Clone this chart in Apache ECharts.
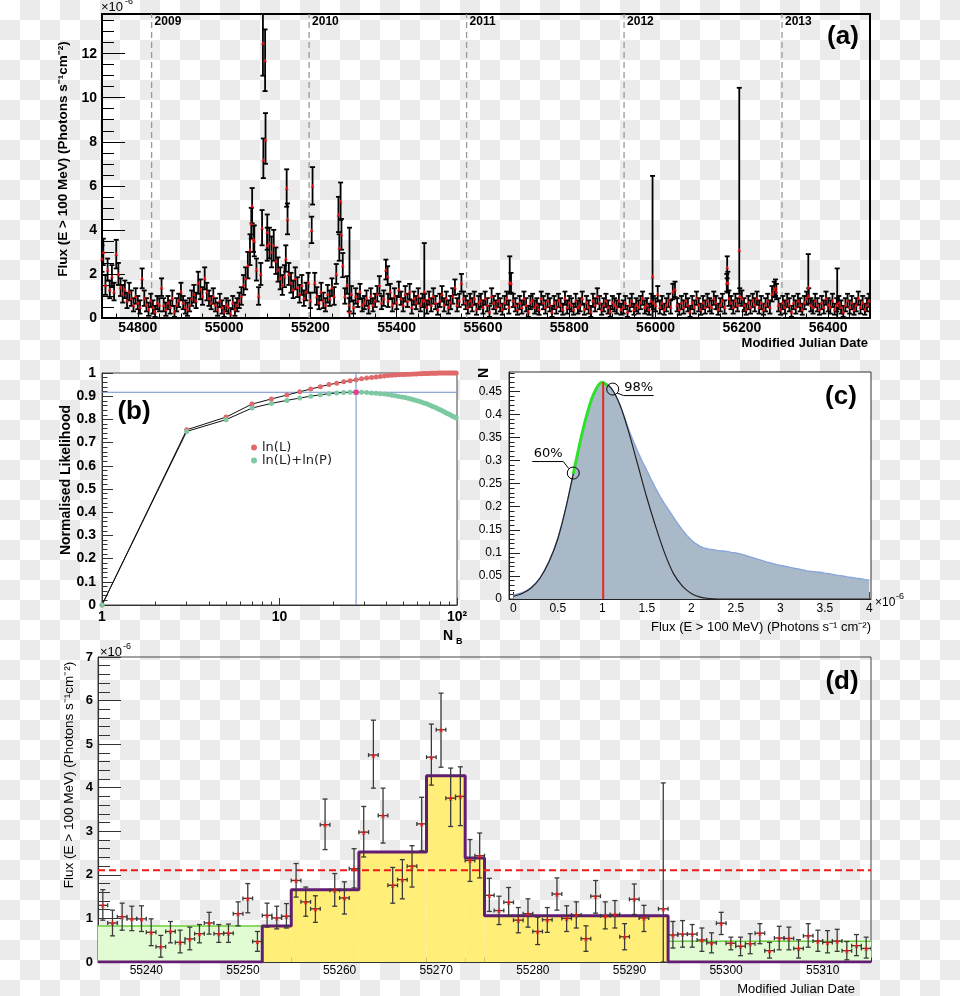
<!DOCTYPE html>
<html><head><meta charset="utf-8">
<script src="https://cdn.jsdelivr.net/npm/echarts@6/dist/echarts.min.js"></script>
<style>
html,body{margin:0;padding:0;}
body{width:960px;height:996px;background-color:#fff;background-image:conic-gradient(#ebebeb 25%, transparent 0 50%, #ebebeb 0 75%, transparent 0);background-size:40px 40px;}
#chart{width:960px;height:996px;}
</style></head><body><div id="chart"></div>
<script>
// ---------------- Panel (a): long-term light curve (flux in 1e-6) ----------------
const aStartMJD = 54720, aStepDays = 5;
const aFlux = [
3.0,1.5,2.2,1.3,1.9,1.2,2.9,2.0,1.4,1.1,
1.3,0.8,1.2,0.9,0.6,1.0,0.7,0.5,1.8,0.9,
0.6,0.4,0.8,0.5,0.3,0.7,0.6,1.4,0.6,0.4,
0.7,0.5,0.9,0.3,0.6,0.8,1.2,0.7,0.5,0.4,
0.6,0.9,1.1,0.8,1.6,1.3,1.0,1.8,1.2,0.9,
0.7,1.0,0.6,0.4,0.8,0.5,0.3,0.6,0.5,0.2,
0.7,0.4,0.6,0.8,1.0,1.5,1.8,2.4,3.1,5.1,
3.5,2.2,1.0,2.0,12.5,11.7,3.9,3.4,3.0,3.3,
2.6,2.2,1.8,1.5,1.9,5.9,2.0,1.6,1.3,1.8,
1.4,1.1,1.5,0.9,1.2,1.6,0.8,6.0,1.6,1.0,
0.7,1.2,0.8,0.6,1.1,0.9,1.4,1.0,2.0,4.7,
5.3,2.4,1.0,1.5,0.6,1.1,0.5,1.0,0.8,1.2,
0.6,0.7,0.9,0.5,1.0,0.6,0.8,1.1,1.5,0.7,
0.9,2.2,0.8,1.2,0.6,1.0,0.7,1.3,0.9,0.6,
1.1,0.8,1.2,0.5,0.9,0.7,1.0,0.6,0.8,0.8,
0.5,0.9,0.6,1.0,0.7,0.4,0.8,1.1,0.6,0.9,
0.5,0.7,1.0,1.4,0.6,0.8,1.6,0.9,0.7,0.5,
0.8,0.6,0.9,0.4,0.7,0.8,0.5,0.9,0.6,0.3,
1.0,0.7,0.5,0.8,0.6,0.4,0.7,0.9,0.5,1.6,
0.8,0.6,0.4,0.7,0.5,0.9,0.6,0.3,0.7,0.8,
0.5,0.6,0.4,0.9,0.7,0.5,0.8,0.6,0.3,0.7,
0.5,0.8,0.6,0.4,0.9,0.5,0.7,0.6,0.4,0.8,
0.5,0.6,0.9,0.4,0.7,0.5,0.3,0.8,0.6,1.0,
0.7,0.4,0.6,0.8,0.5,0.3,0.7,0.6,0.5,0.8,
0.4,0.5,0.7,0.3,0.6,0.8,0.4,0.6,0.5,0.7,
0.9,0.5,0.6,0.4,0.8,0.7,0.6,1.1,0.5,0.7,
0.4,0.6,0.8,0.5,1.2,1.3,0.6,0.4,0.7,0.5,
0.8,0.6,0.3,0.7,0.5,0.9,0.6,0.4,0.7,0.5,
0.8,0.6,0.5,0.9,0.7,0.4,0.6,0.8,0.5,1.6,
0.9,0.7,0.5,0.8,0.6,1.0,0.9,0.6,0.4,0.7,
0.5,0.8,0.6,0.9,0.5,0.7,0.4,0.6,0.8,0.5,
1.1,1.3,1.2,0.6,0.4,0.7,0.5,0.8,0.6,0.3,
0.7,0.5,0.8,0.6,0.4,0.7,0.9,1.0,0.6,0.5,
0.8,0.6,0.4,0.7,0.5,0.9,0.6,0.5,0.8,0.4,
0.6,0.7,0.5,0.3,0.6,0.8,0.5,0.7,0.4,0.6,
0.9,0.5,0.7,0.4,0.6,0.8
];
const aErr = [
0.6,0.45,0.5,0.4,0.5,0.4,0.65,0.5,0.4,0.4,
0.4,0.35,0.4,0.35,0.3,0.35,0.3,0.3,0.45,0.35,
0.3,0.3,0.3,0.3,0.25,0.3,0.3,0.4,0.3,0.3,
0.3,0.3,0.35,0.25,0.3,0.3,0.4,0.3,0.3,0.3,
0.3,0.35,0.4,0.35,0.5,0.45,0.4,0.5,0.4,0.35,
0.3,0.35,0.3,0.3,0.3,0.3,0.25,0.3,0.3,0.25,
0.3,0.3,0.3,0.35,0.4,0.45,0.5,0.6,0.7,0.8,
0.7,0.5,0.4,0.5,1.5,1.4,0.8,0.7,0.7,0.7,
0.6,0.55,0.5,0.45,0.5,0.85,0.5,0.45,0.4,0.5,
0.45,0.4,0.45,0.35,0.4,0.45,0.35,0.85,0.45,0.4,
0.3,0.4,0.35,0.3,0.4,0.35,0.4,0.4,0.45,0.8,
0.85,0.55,0.35,0.4,0.3,0.35,0.3,0.35,0.3,0.35,
0.3,0.3,0.35,0.3,0.35,0.3,0.3,0.35,0.4,0.3,
0.35,0.45,0.3,0.35,0.3,0.35,0.3,0.35,0.3,0.3,
0.35,0.3,0.35,0.3,0.3,0.3,0.35,0.3,0.3,0.3,
0.3,0.3,0.3,0.35,0.3,0.25,0.3,0.35,0.3,0.3,
0.3,0.3,0.35,0.35,0.3,0.3,0.4,0.3,0.3,0.3,
0.3,0.3,0.3,0.25,0.3,0.3,0.3,0.3,0.3,0.25,
0.35,0.3,0.3,0.3,0.3,0.25,0.3,0.3,0.3,0.45,
0.3,0.3,0.25,0.3,0.3,0.3,0.3,0.25,0.3,0.3,
0.3,0.3,0.25,0.3,0.3,0.3,0.3,0.3,0.25,0.3,
0.3,0.3,0.3,0.25,0.3,0.3,0.3,0.3,0.25,0.3,
0.3,0.3,0.3,0.25,0.3,0.3,0.25,0.3,0.3,0.35,
0.3,0.25,0.3,0.3,0.3,0.25,0.3,0.3,0.3,0.3,
0.25,0.3,0.3,0.25,0.3,0.3,0.25,0.3,0.3,0.3,
0.3,0.3,0.3,0.25,0.3,0.3,0.3,0.35,0.3,0.3,
0.25,0.3,0.3,0.3,0.35,0.35,0.3,0.25,0.3,0.3,
0.3,0.3,0.25,0.3,0.3,0.3,0.3,0.25,0.3,0.3,
0.3,0.3,0.3,0.3,0.3,0.25,0.3,0.3,0.3,0.4,
0.35,0.3,0.3,0.3,0.3,0.35,0.35,0.3,0.25,0.3,
0.3,0.3,0.3,0.3,0.3,0.3,0.25,0.3,0.3,0.3,
0.35,0.35,0.35,0.3,0.25,0.3,0.3,0.3,0.3,0.25,
0.3,0.3,0.3,0.3,0.25,0.3,0.3,0.35,0.3,0.3,
0.3,0.3,0.25,0.3,0.3,0.3,0.3,0.3,0.3,0.25,
0.3,0.3,0.3,0.25,0.3,0.3,0.3,0.3,0.25,0.3,
0.3,0.3,0.3,0.25,0.3,0.3
];
// extra individual daily points [MJD, flux, err-, err+]
const aExtra = [
[54717,2.7,0.6,0.6],[55063,4.3,0.7,0.7],[55068,3.6,0.6,0.6],[55088,4.1,0.8,0.8],
[55091,7.2,0.85,0.95],[55096,8.1,1.1,1.2],[55100,3.3,0.7,0.8],[55143,2.7,0.6,0.6],
[55147,4.5,0.7,0.7],[55203,4.0,0.6,0.6],[55267,3.2,0.6,0.6],[55272,3.8,0.7,0.7],
[55290.6,0.3,0.3,3.8],[55379,1.9,0.4,0.45],[55464,1.2,1.2,2.2],[55662,1.6,0.5,1.2],
[55993,1.9,1.9,4.55],[56166,2.3,0.5,0.5],[56167.5,1.6,0.45,0.5],[56194,3.1,2.0,7.35],
[56278,1.4,0.4,0.35],[56354,1.4,0.5,1.5],[56421,0.6,0.6,1.65]
];
const aYears = [[54832,'2009'],[55197,'2010'],[55562,'2011'],[55927,'2012'],[56293,'2013']];
const aXMin = 54717, aXMax = 56497, aYMax = 13.8;
const aXTicks = [54800,55000,55200,55400,55600,55800,56000,56200,56400];
const aYTicks = [0,2,4,6,8,10,12];

// ---------------- Panel (b): normalised likelihood vs N_B ----------------
const bN = [1,3,5,7,9,11,13,15,17,19,21,23,25,27,29,31,33,35,37,39,41,43,45,47,49,51,53,55,57,59,61,63,65,67,69,71,73,75,77,79,81,83,85,87,89,91,93,95,97,99];
const bLnL = [0,0.755,0.81,0.866,0.888,0.905,0.919,0.931,0.941,0.95,0.956,0.962,0.967,0.971,0.975,0.978,0.981,0.983,0.985,0.987,0.989,0.99,0.991,0.992,0.993,0.994,0.995,0.995,0.996,0.996,0.997,0.997,0.998,0.998,0.998,0.999,0.999,0.999,0.999,1.0,1.0,1.0,1.0,1.0,1.0,1.0,1.0,1.0,1.0,1.0];
const bLnLP = [0,0.748,0.799,0.849,0.869,0.882,0.892,0.9,0.906,0.911,0.914,0.916,0.917,0.917,0.917,0.916,0.914,0.913,0.911,0.909,0.907,0.904,0.902,0.899,0.897,0.894,0.891,0.888,0.885,0.882,0.878,0.875,0.871,0.868,0.864,0.86,0.856,0.852,0.848,0.844,0.84,0.836,0.832,0.828,0.824,0.821,0.817,0.813,0.81,0.806];
const bBestN = 27, bBestL = 0.917;
const bXTicks = [1,10,100];
const bXMinor = [2,3,4,5,6,7,8,9,20,30,40,50,60,70,80,90];

// ---------------- Panel (c): flux posterior distribution ----------------
const cHistStart = 0, cHistStep = 0.05;
const cHist = [
0.009,0.011,0.014,0.018,0.025,0.034,0.046,0.062,0.082,0.104,
0.132,0.166,0.206,0.250,0.295,0.340,0.380,0.415,0.443,0.460,
0.470,0.466,0.457,0.441,0.420,0.394,0.366,0.342,0.319,0.298,
0.279,0.259,0.240,0.222,0.206,0.192,0.177,0.163,0.150,0.138,
0.128,0.120,0.114,0.110,0.108,0.107,0.105,0.104,0.103,0.101,
0.100,0.098,0.095,0.092,0.089,0.086,0.083,0.080,0.078,0.075,
0.073,0.071,0.069,0.067,0.065,0.063,0.061,0.060,0.059,0.058,
0.056,0.055,0.053,0.051,0.050,0.048,0.047,0.045,0.044,0.042,
0.041];
const cCurveStart = 0, cCurveStep = 0.1;
const cCurve = [0.006,0.012,0.024,0.045,0.08,0.13,0.205,0.295,0.38,0.443,0.47,0.457,0.42,0.36,0.29,0.22,0.157,0.10,0.055,0.028,0.012,0.004,0.001,0,0,0,0,0,0,0,0,0,0,0,0,0,0,0,0,0,0];
const cPeak = 1.01, cPeakVal = 0.47;
const cMarks = [[0.674,0.273],[1.117,0.455]];
const cMarkLabels = ['60%','98%'];
const cGreenRange = [0.674, 1.06];
const cXTicks = [0,0.5,1,1.5,2,2.5,3,3.5,4];
const cYTicks = [0,0.05,0.1,0.15,0.2,0.25,0.3,0.35,0.4,0.45];

// ---------------- Panel (d): zoom on the 2010 flare ----------------
const dStart = 55235.5, dStep = 1;
const dFlux = [1.30,0.895,1.04,0.99,0.99,0.68,0.35,0.70,0.45,0.53,
0.65,0.895,0.65,0.66,1.11,1.46,0.47,1.07,1.01,1.05,
1.87,1.38,1.22,3.15,1.645,1.47,2.14,2.98,4.75,3.36,
1.76,1.89,2.20,3.17,4.70,5.33,3.76,3.80,2.33,2.44,
1.53,1.18,1.37,0.96,1.11,0.70,0.97,1.56,1.00,1.08,
0.535,1.51,1.06,1.09,0.58,1.44,1.01,null,1.22,0.62,
0.64,0.64,0.505,0.44,0.89,0.43,0.36,0.42,0.66,0.26,
0.55,0.54,0.31,0.60,0.48,0.45,0.48,0.26,0.375,0.31];
const dErrHi = [0.36,0.295,0.31,0.29,0.30,0.31,0.26,0.23,0.28,0.27,
0.21,0.245,0.21,0.21,0.27,0.34,0.23,0.28,0.27,0.29,
0.39,0.34,0.30,0.59,0.385,0.37,0.46,0.59,0.80,0.63,
0.41,0.46,0.47,0.61,0.76,0.84,0.69,0.68,0.48,0.52,
0.39,0.33,0.34,0.29,0.34,0.33,0.28,0.37,0.29,0.30,
0.295,0.36,0.32,0.32,0.30,0.35,0.29,null,2.89,0.31,
0.31,0.22,0.275,0.23,0.25,0.14,0.21,0.23,0.22,0.19,
0.27,0.26,0.20,0.28,0.25,0.27,0.27,0.21,0.255,0.26];
const dErrLo = [0.34,0.295,0.31,0.27,0.29,0.305,0.24,0.26,0.24,0.25,
0.21,0.255,0.20,0.21,0.28,0.33,0.225,0.27,0.25,0.27,
0.38,0.33,0.31,0.57,0.365,0.37,0.44,0.57,0.76,0.63,
0.41,0.44,0.48,0.62,0.64,0.86,0.65,0.67,0.48,0.51,
0.37,0.32,0.32,0.29,0.31,0.30,0.29,0.37,0.30,0.30,
0.29,0.39,0.30,0.31,0.30,0.35,0.31,null,1.22,0.30,
0.30,0.30,0.26,0.23,0.26,0.15,0.215,0.23,0.24,0.17,
0.27,0.26,0.22,0.26,0.235,0.24,0.235,0.21,0.23,0.22];
const dQuiet = [[55235,55252,0.826],[55294,55315,0.474]];
const dBlocks = [[55252,55255,0.826],[55255,55262,1.66],[55262,55269,2.525],[55269,55273,4.277],[55273,55275,2.387],[55275,55294,1.063]];
const dThreshold = 2.104;
const dXMin = 55235, dXMax = 55315, dYMax = 7;
const dXTicks = [55240,55250,55260,55270,55280,55290,55300,55310];
const dYTicks = [0,1,2,3,4,5,6,7];

// ---------------- helpers ----------------
const LS = '"Liberation Sans", Arial, Helvetica, sans-serif';
const DV = '"DejaVu Sans", sans-serif';
function seq(a, b, s) { const n = Math.round((b - a) / s); const r = []; for (let i = 0; i <= n; i++) r.push(+(a + i * s).toFixed(6)); return r; }

function axisPair(o) {
  const base = {type: o.type || 'value', gridIndex: o.grid, min: o.min, max: o.max, position: o.position, splitLine: {show: false}, minorTick: {show: false}};
  if (o.type === 'log') base.logBase = 10;
  const major = Object.assign({}, base, {
    axisLine: {show: true, onZero: false, lineStyle: {color: o.color, width: o.lw}},
    axisTick: {show: true, inside: true, length: o.majorLen, customValues: o.major, lineStyle: {color: o.color, width: 1}},
    axisLabel: {show: true, customValues: o.major, margin: o.margin, formatter: o.fmt || (v => String(v)), color: '#000', fontFamily: o.family || LS, fontSize: o.size, fontWeight: o.weight || 'normal'}
  });
  const minor = Object.assign({}, base, {
    axisLine: {show: false, onZero: false},
    axisTick: {show: true, inside: true, length: o.minorLen, customValues: o.minor, lineStyle: {color: o.color, width: 1}},
    axisLabel: {show: false}
  });
  return [major, minor];
}

function errBars(ai, data, o) {
  return {
    type: 'custom', xAxisIndex: ai, yAxisIndex: ai, data: data, clip: true, silent: true, z: o.z || 3,
    encode: {x: 0, y: 1},
    renderItem: function (params, api) {
      const x = api.value(0), y = api.value(1), lo = api.value(2), hi = api.value(3);
      const pl = api.coord([x, y - lo]), ph = api.coord([x, y + hi]);
      const px = pl[0], c = o.cap;
      const st = {stroke: o.color, lineWidth: o.lw};
      const ch = [
        {type: 'line', shape: {x1: px, y1: pl[1], x2: px, y2: ph[1]}, style: st},
        {type: 'line', shape: {x1: px - c, y1: pl[1], x2: px + c, y2: pl[1]}, style: st},
        {type: 'line', shape: {x1: px - c, y1: ph[1], x2: px + c, y2: ph[1]}, style: st}
      ];
      if (o.xErr) {
        const a = api.coord([x - o.xErr, y]), b = api.coord([x + o.xErr, y]);
        ch.push({type: 'line', shape: {x1: a[0], y1: a[1], x2: b[0], y2: b[1]}, style: st});
        ch.push({type: 'line', shape: {x1: a[0], y1: a[1] - 2, x2: a[0], y2: a[1] + 2}, style: st});
        ch.push({type: 'line', shape: {x1: b[0], y1: b[1] - 2, x2: b[0], y2: b[1] + 2}, style: st});
      }
      return {type: 'group', children: ch};
    }
  };
}

function txt(x, y, text, size, weight, opt) {
  opt = opt || {};
  return {type: 'text', x: x, y: y, rotation: opt.rot || 0, silent: true, z: 100,
    style: {text: text, fontSize: size, fontWeight: weight || 'normal', fontFamily: opt.family || LS, fill: '#000',
      align: opt.align || 'center', verticalAlign: opt.va || 'middle'}};
}

// ---------------- build data ----------------
const aPts = aFlux.map((v, i) => [aStartMJD + i * aStepDays, v, aErr[i], aErr[i]]).concat(aExtra);
const bRed = bN.map((n, i) => [n, bLnL[i]]);
const bGreen = bN.map((n, i) => [n, bLnLP[i]]);
const cHistData = cHist.map((v, i) => [+(cHistStart + i * cHistStep).toFixed(3), v]);
const cCurveData = cCurve.map((v, i) => [+(cCurveStart + i * cCurveStep).toFixed(3), v]);
function interpCurve(x) {
  for (let i = 1; i < cCurveData.length; i++) {
    if (cCurveData[i][0] >= x) { const [x0, y0] = cCurveData[i - 1], [x1, y1] = cCurveData[i]; return y0 + (y1 - y0) * (x - x0) / (x1 - x0); }
  }
  return 0;
}
const cGreen = [[cGreenRange[0], interpCurve(cGreenRange[0])]]
  .concat(cCurveData.filter(p => p[0] > cGreenRange[0] && p[0] < cGreenRange[1]))
  .concat([[cGreenRange[1], interpCurve(cGreenRange[1])]]);
const dPts = [];
dFlux.forEach((v, i) => { if (v !== null) dPts.push([dStart + i * dStep, v, dErrLo[i], dErrHi[i]]); });
const dOutline = [[dXMin, 0], [dBlocks[0][0], 0]];
dBlocks.forEach(b => { dOutline.push([b[0], b[2]]); dOutline.push([b[1], b[2]]); });
dOutline.push([dBlocks[dBlocks.length - 1][1], 0]); dOutline.push([dXMax, 0]);

// ---------------- axes ----------------
const ax = [], ay = [];
ax.push(...axisPair({grid: 0, min: aXMin, max: aXMax, position: 'bottom', major: aXTicks, minor: seq(54750, 56450, 50), majorLen: 9, minorLen: 4.5, color: '#000', lw: 2, margin: 3, size: 14, weight: 'bold'}));
ay.push(...axisPair({grid: 0, min: 0, max: aYMax, position: 'left', major: aYTicks, minor: seq(0, 13.5, 0.5), majorLen: 23, minorLen: 12, color: '#000', lw: 2, margin: 5, size: 14, weight: 'bold'}));
ax.push(...axisPair({grid: 1, type: 'log', min: 1, max: 100, position: 'bottom', major: bXTicks, minor: bXMinor, majorLen: 7, minorLen: 3.5, color: '#333', lw: 1, margin: 5, size: 14, weight: 'bold', fmt: v => (Math.abs(v - 100) < 1e-6 ? '10²' : String(Math.round(v)))}));
ay.push(...axisPair({grid: 1, min: 0, max: 1, position: 'left', major: seq(0, 1, 0.1), minor: seq(0, 1, 0.02), majorLen: 11, minorLen: 5.5, color: '#333', lw: 1, margin: 6, size: 14, weight: 'bold', fmt: v => (v === 0 || v === 1 ? String(v) : v.toFixed(1))}));
ax.push(...axisPair({grid: 2, min: -0.048, max: 4.019, position: 'bottom', major: cXTicks, minor: seq(0, 4, 0.1), majorLen: 7, minorLen: 3.5, color: '#222', lw: 1, margin: 4, size: 12}));
ay.push(...axisPair({grid: 2, min: 0, max: 0.492, position: 'left', major: cYTicks, minor: seq(0, 0.49, 0.01), majorLen: 11, minorLen: 5.5, color: '#222', lw: 1, margin: 7, size: 12, fmt: v => String(+v.toFixed(2))}));
ax.push(...axisPair({grid: 3, min: dXMin, max: dXMax, position: 'bottom', major: dXTicks, minor: seq(55235, 55315, 1), majorLen: 9, minorLen: 4.5, color: '#333', lw: 1, margin: 3, size: 12}));
ay.push(...axisPair({grid: 3, min: 0, max: dYMax, position: 'left', major: dYTicks, minor: seq(0, 7, 0.2), majorLen: 23, minorLen: 12, color: '#333', lw: 1, margin: 5, size: 13, weight: 'bold'}));

// ---------------- series ----------------
const series = [];
// (a)
series.push({
  type: 'custom', xAxisIndex: 0, yAxisIndex: 0, data: aYears.map(y => [y[0], 0]), silent: true, z: 1, encode: {x: 0, y: 1},
  renderItem: function (params, api) {
    const x = api.value(0); const p0 = api.coord([x, 0]), p1 = api.coord([x, aYMax]);
    return {type: 'group', children: [
      {type: 'line', shape: {x1: p0[0], y1: p0[1], x2: p1[0], y2: p1[1]}, style: {stroke: '#999', lineWidth: 1.3, lineDash: [6, 4]}},
      {type: 'text', x: p1[0] + 3, y: p1[1] + 8, style: {text: aYears[params.dataIndex][1], fontSize: 12, fontWeight: 'bold', fontFamily: LS, fill: '#000', align: 'left', verticalAlign: 'middle'}}
    ]};
  }
});
series.push(errBars(0, aPts, {color: '#000', lw: 1.8, cap: 2.5, z: 3}));
series.push({type: 'scatter', xAxisIndex: 0, yAxisIndex: 0, data: aPts.map(p => [p[0], p[1]]), symbol: 'triangle', symbolSize: 4, itemStyle: {color: '#ff1010'}, silent: true, z: 4, clip: true});
// (b)
series.push({name: 'ln(L)', type: 'line', xAxisIndex: 2, yAxisIndex: 2, data: bRed, color: '#e06a6a', symbol: 'circle', symbolSize: 5, lineStyle: {color: '#111', width: 1}, itemStyle: {color: '#e06a6a'}, silent: true, z: 3});
series.push({name: 'ln(L)+ln(P)', type: 'line', xAxisIndex: 2, yAxisIndex: 2, data: bGreen, color: '#7cc9a2', symbol: 'circle', symbolSize: 5, lineStyle: {color: '#111', width: 1}, itemStyle: {color: '#7cc9a2'}, silent: true, z: 3});
series.push({type: 'line', xAxisIndex: 2, yAxisIndex: 2, data: [[1, bBestL], [100, bBestL]], symbol: 'none', lineStyle: {color: '#6d8cc8', width: 1}, silent: true, z: 2});
series.push({type: 'line', xAxisIndex: 2, yAxisIndex: 2, data: [[bBestN, 0], [bBestN, 1]], symbol: 'none', lineStyle: {color: '#6d8cc8', width: 1}, silent: true, z: 2});
series.push({type: 'scatter', xAxisIndex: 2, yAxisIndex: 2, data: [[bBestN, bBestL]], symbol: 'rect', symbolSize: 5, itemStyle: {color: '#ff1a8c'}, silent: true, z: 5});
// (c)
series.push({type: 'line', xAxisIndex: 4, yAxisIndex: 4, data: cHistData, symbol: 'none', lineStyle: {color: '#86a4dc', width: 1.3}, areaStyle: {color: '#aab9c7', opacity: 1}, silent: true, z: 2});
series.push({type: 'line', xAxisIndex: 4, yAxisIndex: 4, data: cCurveData, symbol: 'none', smooth: 0.3, lineStyle: {color: '#222', width: 1.2}, silent: true, z: 3});
series.push({type: 'line', xAxisIndex: 4, yAxisIndex: 4, data: cGreen, symbol: 'none', smooth: 0.3, lineStyle: {color: '#2ee02a', width: 3}, silent: true, z: 4});
series.push({type: 'line', xAxisIndex: 4, yAxisIndex: 4, data: [[cPeak, 0], [cPeak, cPeakVal]], symbol: 'none', lineStyle: {color: '#e8281e', width: 2}, silent: true, z: 5});
series.push({
  type: 'custom', xAxisIndex: 4, yAxisIndex: 4, data: cMarks, silent: true, z: 6, encode: {x: 0, y: 1},
  renderItem: function (params, api) {
    const i = params.dataIndex; const p = api.coord([api.value(0), api.value(1)]);
    const s = {stroke: '#000', lineWidth: 1};
    const ch = [{type: 'circle', shape: {cx: p[0], cy: p[1], r: 6}, style: {fill: 'none', stroke: '#000', lineWidth: 1}}];
    if (i === 0) {
      ch.push({type: 'text', x: p[0] - 25, y: p[1] - 19, style: {text: cMarkLabels[i], fontSize: 13, fontFamily: DV, fill: '#000', align: 'center', verticalAlign: 'middle'}});
      ch.push({type: 'line', shape: {x1: p[0] - 41, y1: p[1] - 11.5, x2: p[0] - 10, y2: p[1] - 11.5}, style: s});
      ch.push({type: 'line', shape: {x1: p[0] - 10, y1: p[1] - 11.5, x2: p[0] - 4.5, y2: p[1] - 4.5}, style: s});
    } else {
      ch.push({type: 'text', x: p[0] + 26, y: p[1] - 1, style: {text: cMarkLabels[i], fontSize: 13, fontFamily: DV, fill: '#000', align: 'center', verticalAlign: 'middle'}});
      ch.push({type: 'line', shape: {x1: p[0] + 11, y1: p[1] + 6.5, x2: p[0] + 41, y2: p[1] + 6.5}, style: s});
      ch.push({type: 'line', shape: {x1: p[0] + 4.5, y1: p[1] + 4, x2: p[0] + 11, y2: p[1] + 6.5}, style: s});
    }
    return {type: 'group', children: ch};
  }
});
// (d)
function blockRender(fill, edge) {
  return function (params, api) {
    const x0 = api.value(0), x1 = api.value(1), h = api.value(2);
    const p0 = api.coord([x0, 0]), p1 = api.coord([x1, h]);
    const ch = [{type: 'rect', shape: {x: p0[0], y: p1[1], width: p1[0] - p0[0], height: p0[1] - p1[1]}, style: {fill: fill}}];
    if (edge) ch.push({type: 'line', shape: {x1: p0[0], y1: p1[1], x2: p1[0], y2: p1[1]}, style: {stroke: edge, lineWidth: 1.5}});
    return {type: 'group', children: ch};
  };
}
series.push({type: 'custom', xAxisIndex: 6, yAxisIndex: 6, data: dQuiet, silent: true, z: 1, clip: true, encode: {x: [0, 1], y: 2}, renderItem: blockRender('#e1fcd3', '#6ccf3a')});
series.push({type: 'custom', xAxisIndex: 6, yAxisIndex: 6, data: dBlocks, silent: true, z: 1, clip: true, encode: {x: [0, 1], y: 2}, renderItem: blockRender('#ffef78', null)});
series.push({type: 'line', xAxisIndex: 6, yAxisIndex: 6, data: dOutline, symbol: 'none', lineStyle: {color: '#631c73', width: 3}, silent: true, z: 2});
series.push({type: 'line', xAxisIndex: 6, yAxisIndex: 6, data: [[dXMin, dThreshold], [dXMax, dThreshold]], symbol: 'none', lineStyle: {color: '#f01a1a', width: 2, type: [7, 4]}, silent: true, z: 2});
series.push(errBars(6, dPts, {color: '#3a3a3a', lw: 1.3, cap: 2.5, xErr: 0.5, z: 3}));
series.push({type: 'scatter', xAxisIndex: 6, yAxisIndex: 6, data: dPts.map(p => [p[0], p[1]]), symbol: 'path://M50,0 L61,35 98,35 68,57 79,91 50,70 21,91 32,57 2,35 39,35Z', symbolSize: 6, itemStyle: {color: '#ff1010'}, silent: true, z: 4});

// ---------------- texts ----------------
const FLUX_T = 'Flux (E > 100 MeV) (Photons s⁻¹cm⁻²)';
const graphics = [
  txt(63, 159, FLUX_T, 13.5, 'bold', {rot: Math.PI / 2}),
  txt(868, 343, 'Modified Julian Date', 13, 'bold', {align: 'right'}),
  txt(101, 7, '×10', 13, 'normal', {align: 'left'}),
  txt(125, 2, '-6', 9, 'normal', {align: 'left'}),
  txt(843, 37, '(a)', 26, 'bold'),
  txt(66, 480, 'Normalised Likelihood', 14, 'bold', {rot: Math.PI / 2}),
  txt(448, 636, 'N', 14, 'bold'),
  txt(456, 642, 'B', 9, 'bold', {align: 'left'}),
  txt(134, 412, '(b)', 26, 'bold'),
  txt(484, 373, 'N', 14, 'bold', {rot: Math.PI / 2}),
  txt(871, 627, 'Flux (E > 100 MeV) (Photons s⁻¹ cm⁻²)', 13, 'normal', {align: 'right'}),
  txt(875, 603, '×10', 12, 'normal', {align: 'left'}),
  txt(896, 597, '-6', 9, 'normal', {align: 'left'}),
  txt(841, 397, '(c)', 26, 'bold'),
  txt(69, 775, FLUX_T, 13.5, 'normal', {rot: Math.PI / 2}),
  txt(855, 989, 'Modified Julian Date', 13, 'normal', {align: 'right'}),
  txt(100, 652, '×10', 13, 'normal', {align: 'left'}),
  txt(123, 647, '-6', 9, 'normal', {align: 'left'}),
  txt(842, 682, '(d)', 26, 'bold')
];

const chart = echarts.init(document.getElementById('chart'), null, {renderer: 'canvas'});
chart.setOption({
  backgroundColor: 'transparent',
  animation: false,
  grid: [
    {left: 102, top: 14, width: 768, height: 304, show: true, borderColor: '#000', borderWidth: 2, backgroundColor: 'transparent', containLabel: false, outerBoundsMode: 'none'},
    {left: 102, top: 373, width: 355, height: 232, show: true, borderColor: '#444', borderWidth: 1, backgroundColor: '#fff', containLabel: false, outerBoundsMode: 'none'},
    {left: 509, top: 372, width: 362, height: 227, show: true, borderColor: '#333', borderWidth: 1, backgroundColor: '#fff', containLabel: false, outerBoundsMode: 'none'},
    {left: 98, top: 657, width: 773, height: 305, show: true, borderColor: '#444', borderWidth: 1, backgroundColor: 'transparent', containLabel: false, outerBoundsMode: 'none'}
  ],
  xAxis: ax,
  yAxis: ay,
  legend: {data: ['ln(L)', 'ln(L)+ln(P)'], orient: 'vertical', left: 246, top: 436, itemWidth: 6, itemHeight: 6, itemGap: 0, icon: 'circle', selectedMode: false,
    textStyle: {fontFamily: DV, fontSize: 13, color: '#222'}},
  series: series,
  graphic: {elements: graphics}
});
</script></body></html>
